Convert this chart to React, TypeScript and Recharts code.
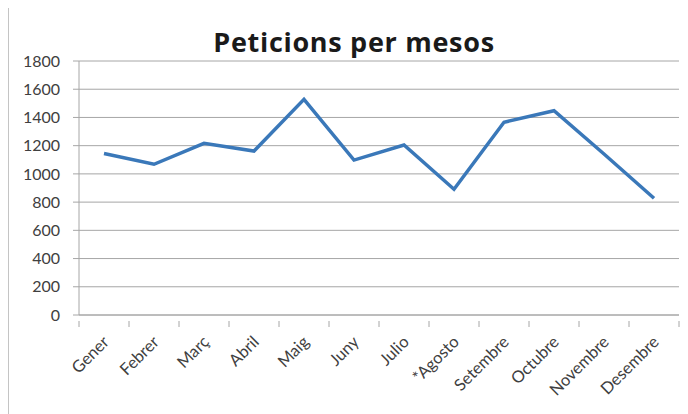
import React from "react";
import { LineChart, Line, XAxis, YAxis, CartesianGrid } from "recharts";

const MONTHS = ["Gener", "Febrer", "Març", "Abril", "Maig", "Juny", "Julio", "*Agosto", "Setembre", "Octubre", "Novembre", "Desembre"];
const PETICIONS = [1145, 1068, 1217, 1162, 1528, 1098, 1205, 891, 1366, 1448, 1141, 827];
const Y_TICKS = [0, 200, 400, 600, 800, 1000, 1200, 1400, 1600, 1800];

const data = MONTHS.map((m, i) => ({ mes: m, peticions: PETICIONS[i] }));

const FONT = "Lato, 'Open Sans', sans-serif";
const BAND = 50; // plot width 600 / 12 months

// category tick: mark at band boundaries, label rotated under the centre
const MonthTick = (props: any) => {
  const { x, y, payload, index } = props;
  const left = x - BAND / 2;
  return (
    <g>
      <line x1={left} x2={left} y1={y - 8} y2={y - 2} stroke="#a6a6a6" />
      {index === MONTHS.length - 1 && (
        <line x1={x + BAND / 2} x2={x + BAND / 2} y1={y - 8} y2={y - 2} stroke="#a6a6a6" />
      )}
      <text
        x={x + 6}
        y={y + 14}
        transform={`rotate(-45 ${x + 6} ${y + 14})`}
        textAnchor="end"
        fill="#404040"
        fontSize={16.5}
        fontFamily={FONT}
      >
        {payload.value}
      </text>
    </g>
  );
};

export default function App() {
  return (
    <div style={{ position: "relative", width: 680, height: 406, fontFamily: FONT }}>
      {/* chart area frame, only its top and left edges fall inside the picture */}
      <svg
        width={680}
        height={410}
        style={{ position: "absolute", left: -1, top: -2, overflow: "visible" }}
      >
        <line x1={0.75} y1={0.75} x2={680} y2={0.75} stroke="#8a8a8a" strokeWidth={1.5} />
        <line x1={0.75} y1={0.75} x2={0.75} y2={410} stroke="#8a8a8a" strokeWidth={1.5} />
      </svg>
      <div
        style={{
          position: "absolute",
          left: 0,
          width: 692,
          top: 18,
          textAlign: "center",
          fontSize: 27,
          letterSpacing: 0.7,
          fontWeight: 700,
          fontFamily: "'Open Sans', sans-serif",
          color: "#1a1a1a",
          lineHeight: "32px",
        }}
      >
        Peticions per mesos
      </div>
      <LineChart
        width={680}
        height={400}
        data={data}
        margin={{ top: 53, right: 9, left: 0, bottom: 0 }}
      >
        <CartesianGrid vertical={false} stroke="#a6a6a6" strokeWidth={1} />
        <XAxis
          dataKey="mes"
          scale="band"
          height={93}
          interval={0}
          stroke="#a6a6a6"
          tickLine={false}
          tickMargin={8}
          tick={<MonthTick />}
        />
        <YAxis
          width={71}
          domain={[0, 1800]}
          ticks={Y_TICKS}
          stroke="#a6a6a6"
          tickSize={6}
          tickMargin={13}
          tick={{ fill: "#404040", fontSize: 16, fontFamily: FONT }}
        />
        <Line
          type="linear"
          dataKey="peticions"
          stroke="#3a78b9"
          strokeWidth={3.5}
          dot={false}
          isAnimationActive={false}
        />
      </LineChart>
    </div>
  );
}
